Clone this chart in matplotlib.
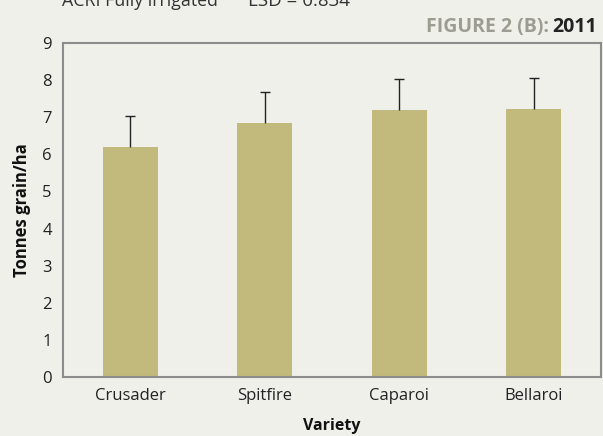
import numpy as np
import matplotlib.pyplot as plt

varieties = ["Crusader", "Spitfire", "Caparoi", "Bellaroi"]
yields = [6.2, 6.85, 7.2, 7.22]
lsd_err = [0.834, 0.834, 0.834, 0.834]
y_ticks = [0, 1, 2, 3, 4, 5, 6, 7, 8, 9]

bg = "#f0f0eb"
bar_col = "#c2b97c"

plt.rcParams["font.family"] = ["Open Sans", "DejaVu Sans"]

fig = plt.figure(figsize=(6.03, 4.36), dpi=100, facecolor=bg)
W, H = 603, 436
ax = fig.add_axes([63 / W, 1 - 377 / H, (601 - 63) / W, (377 - 43) / H])
ax.set_facecolor(bg)

x = np.arange(len(varieties))
ax.bar(x, yields, width=0.41, color=bar_col, zorder=2)
eb = ax.errorbar(x, yields, yerr=[np.zeros(len(lsd_err)), lsd_err], fmt="none",
                 ecolor="#222222", elinewidth=1, capsize=3.5, capthick=1, zorder=3)
eb[1][0].set_visible(False)  # no lower cap

ax.set_xlim(-0.5, len(varieties) - 0.5)
ax.set_ylim(0, 9)
ax.set_yticks(y_ticks)
ax.set_xticks(x)
ax.set_xticklabels(varieties)
ax.tick_params(length=0, labelsize=12, colors="#222222", pad=8)
for s in ax.spines.values():
    s.set_color("#8c8c8c")
    s.set_linewidth(1.5)

ax.set_xlabel("Variety", fontsize=11.5, fontweight="bold", color="#111111", labelpad=10)
ax.set_ylabel("Tonnes grain/ha", fontsize=12, fontweight="bold", color="#111111", labelpad=8)

fig.text(62 / W, 1 - 6 / H, "ACRI Fully irrigated", fontsize=12.8,
         color="#333333", va="baseline", ha="left")
fig.text(248 / W, 1 - 6 / H, "LSD = 0.834", fontsize=13.5,
         color="#333333", va="baseline", ha="left")
t2 = fig.text(597 / W, 1 - 32 / H, "2011", fontsize=14, fontweight="bold",
              color="#222222", ha="right", va="baseline")
fig.canvas.draw()
bb = t2.get_window_extent()
fig.text(bb.x0 / W - 0.005, 1 - 32 / H, "FIGURE 2 (B):", fontsize=14, fontweight="bold",
         color="#9c9c92", ha="right", va="baseline")

fig.savefig("out.png", dpi=100, facecolor=bg)
